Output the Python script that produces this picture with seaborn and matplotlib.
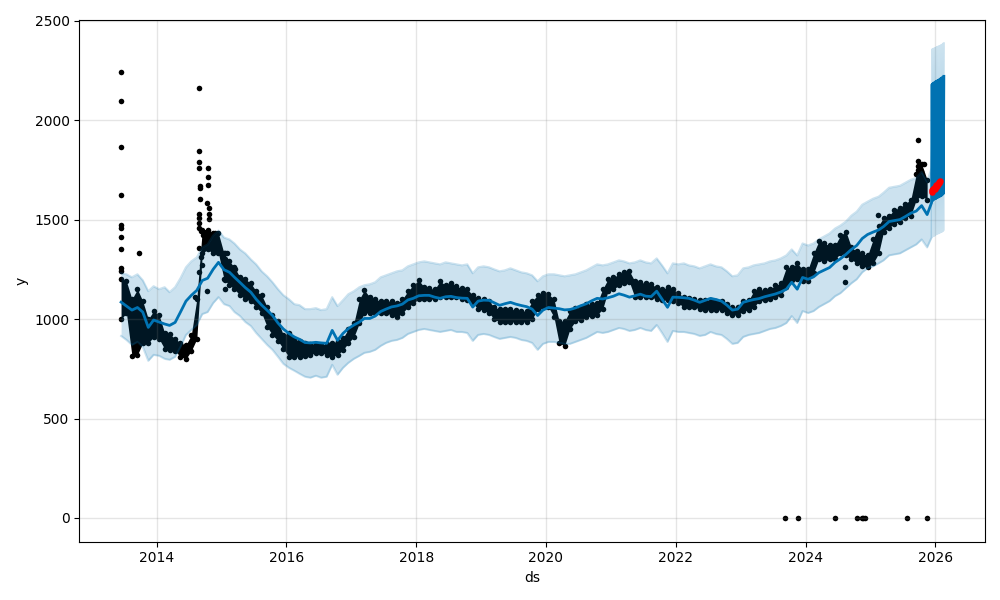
import numpy as np
import pandas as pd
import matplotlib
matplotlib.use('Agg')
import matplotlib.pyplot as plt
import matplotlib.dates as mdates
import seaborn as sns

# monthly history (mid-month, Jun 2013 .. Nov 2025)
months = pd.date_range('2013-06-01', periods=150, freq='MS') + pd.Timedelta(days=14)

yhat = [1085, 1065, 1045, 1058, 1035, 958, 995, 985, 975, 968,
        983, 1035, 1090, 1119, 1144, 1194, 1205, 1250, 1285, 1248,
        1235, 1210, 1184, 1158, 1135, 1100, 1070, 1044, 1018, 980,
        950, 928, 910, 898, 882, 880, 883, 880, 878, 943,
        893, 928, 952, 970, 985, 1003, 1003, 1015, 1038, 1050,
        1061, 1066, 1075, 1096, 1104, 1117, 1119, 1119, 1110, 1104,
        1112, 1114, 1108, 1105, 1104, 1060, 1090, 1095, 1094, 1082,
        1069, 1077, 1084, 1075, 1068, 1062, 1050, 1018, 1045, 1058,
        1055, 1052, 1046, 1048, 1056, 1067, 1077, 1092, 1104, 1101,
        1107, 1115, 1127, 1120, 1110, 1117, 1125, 1115, 1113, 1140,
        1100, 1059, 1110, 1109, 1107, 1104, 1095, 1084, 1094, 1104,
        1098, 1090, 1070, 1045, 1050, 1084, 1092, 1098, 1103, 1112,
        1119, 1126, 1136, 1150, 1185, 1150, 1209, 1200, 1212, 1233,
        1246, 1259, 1285, 1303, 1325, 1350, 1370, 1405, 1425, 1437,
        1448, 1465, 1490, 1495, 1500, 1515, 1532, 1543, 1570, 1525]

yhat_upper = [1230, 1225, 1210, 1225, 1195, 1140, 1165, 1150, 1160, 1135,
              1160, 1205, 1260, 1290, 1310, 1360, 1375, 1420, 1445, 1410,
              1400, 1380, 1350, 1330, 1300, 1275, 1240, 1215, 1185, 1150,
              1120, 1100, 1075, 1070, 1050, 1050, 1055, 1045, 1050, 1110,
              1065, 1095, 1125, 1140, 1160, 1170, 1175, 1185, 1210, 1220,
              1230, 1240, 1245, 1265, 1275, 1285, 1290, 1285, 1280, 1275,
              1285, 1280, 1275, 1270, 1275, 1230, 1260, 1265, 1260, 1250,
              1240, 1245, 1255, 1245, 1235, 1230, 1220, 1190, 1215, 1225,
              1225, 1220, 1215, 1220, 1225, 1235, 1245, 1260, 1275, 1270,
              1275, 1285, 1295, 1290, 1280, 1285, 1295, 1285, 1280, 1305,
              1270, 1230, 1280, 1275, 1280, 1270, 1265, 1255, 1265, 1275,
              1265, 1260, 1240, 1215, 1220, 1255, 1260, 1270, 1275, 1280,
              1290, 1295, 1305, 1320, 1350, 1320, 1380, 1370, 1380, 1400,
              1415, 1430, 1455, 1470, 1490, 1520, 1540, 1575, 1590, 1605,
              1615, 1635, 1660, 1665, 1670, 1685, 1700, 1710, 1740, 1690]

yhat_lower = [915, 895, 870, 885, 860, 790, 820, 815, 800, 795,
              810, 860, 920, 945, 970, 1025, 1035, 1080, 1110, 1075,
              1065, 1035, 1015, 985, 965, 930, 900, 870, 845, 810,
              775, 755, 740, 725, 710, 705, 715, 705, 710, 770,
              720, 755, 780, 800, 815, 830, 835, 845, 865, 880,
              890, 895, 905, 925, 935, 945, 950, 945, 940, 935,
              940, 945, 935, 935, 930, 890, 920, 925, 920, 910,
              900, 905, 910, 905, 895, 890, 880, 845, 875, 885,
              885, 880, 875, 875, 885, 895, 905, 920, 935, 930,
              935, 945, 955, 950, 940, 945, 955, 945, 940, 970,
              930, 885, 940, 935, 935, 930, 925, 915, 920, 935,
              925, 920, 900, 875, 880, 910, 920, 925, 930, 940,
              950, 955, 965, 980, 1015, 980, 1040, 1030, 1040, 1060,
              1075, 1090, 1115, 1130, 1155, 1180, 1200, 1235, 1255, 1265,
              1280, 1295, 1320, 1325, 1330, 1345, 1360, 1375, 1400, 1360]

# spread of the observed points in each month (low / high edge of the black band)
obs_lo = [1000, 1030, 815, 820, 880, 880, 910, 900, 850, 845,
          840, 810, 800, 840, 900, 1330, 1350, 1330, 1330, 1200,
          1170, 1150, 1120, 1100, 1090, 1060, 1030, 960, 920, 890,
          850, 810, 810, 810, 815, 820, 830, 830, 820, 810,
          820, 845, 880, 910, 980, 1030, 1030, 1030, 1030, 1030,
          1020, 1010, 1030, 1060, 1080, 1100, 1100, 1100, 1100, 1110,
          1110, 1110, 1110, 1100, 1095, 1080, 1050, 1045, 1030, 1000,
          985, 985, 985, 985, 985, 985, 1000, 1050, 1060, 1060,
          1010, 880, 865, 950, 990, 995, 1010, 1015, 1020, 1050,
          1140, 1150, 1170, 1180, 1185, 1110, 1110, 1110, 1110, 1100,
          1095, 1095, 1090, 1080, 1060, 1060, 1060, 1050, 1045, 1045,
          1045, 1045, 1030, 1020, 1020, 1040, 1045, 1060, 1090, 1095,
          1100, 1110, 1120, 1160, 1195, 1200, 1190, 1190, 1230, 1300,
          1290, 1300, 1300, 1330, 1320, 1300, 1280, 1265, 1260, 1280,
          1330, 1440, 1460, 1480, 1490, 1510, 1520, 1600, 1620, 1600]

obs_hi = [1200, 1190, 1100, 1150, 1090, 1000, 1040, 1020, 930, 925,
          900, 880, 870, 920, 1100, 1450, 1450, 1430, 1430, 1330,
          1290, 1260, 1210, 1200, 1180, 1140, 1120, 1060, 1020, 990,
          920, 930, 900, 890, 880, 875, 875, 870, 875, 880,
          890, 905, 950, 980, 1100, 1145, 1110, 1100, 1090, 1090,
          1090, 1080, 1100, 1140, 1170, 1195, 1160, 1155, 1150, 1190,
          1170, 1180, 1165, 1155, 1150, 1120, 1105, 1100, 1090, 1060,
          1050, 1050, 1050, 1045, 1040, 1040, 1090, 1120, 1130, 1125,
          1100, 990, 990, 1040, 1055, 1060, 1075, 1075, 1080, 1150,
          1200, 1210, 1225, 1234, 1240, 1190, 1185, 1180, 1175, 1160,
          1150, 1160, 1150, 1130, 1110, 1105, 1100, 1095, 1095, 1095,
          1090, 1090, 1075, 1060, 1060, 1090, 1095, 1140, 1150, 1145,
          1150, 1170, 1180, 1260, 1260, 1280, 1250, 1250, 1330, 1390,
          1380, 1370, 1370, 1420, 1440, 1360, 1340, 1330, 1320, 1400,
          1470, 1510, 1520, 1550, 1560, 1580, 1600, 1730, 1780, 1700]

# isolated observations outside the dense band
extra_dates = ['2013-06-12'] * 10 + ['2013-09-25'] + \
    ['2014-08-28', '2014-08-28', '2014-08-28', '2014-08-27', '2014-10-18', '2014-10-18',
     '2014-10-18', '2014-08-31', '2014-08-31', '2014-09-01', '2014-10-14', '2014-08-26',
     '2014-10-22', '2014-10-22', '2014-10-22', '2014-08-29', '2014-08-29', '2014-08-29',
     '2014-09-10', '2014-09-20', '2014-10-01', '2014-10-10', '2014-10-10', '2014-11-25',
     '2014-11-25', '2014-12-05', '2014-12-05', '2014-08-29', '2014-09-05', '2014-08-25',
     '2014-09-15', '2014-10-14', '2015-01-18', '2015-01-18', '2015-01-18', '2015-01-18',
     '2015-01-18', '2015-01-30', '2015-03-20', '2015-03-20', '2015-04-20', '2015-04-20',
     '2014-08-05'] + \
    ['2024-08-08', '2024-08-08', '2025-02-10', '2025-09-22', '2025-09-22', '2025-09-24',
     '2025-09-26', '2025-10-30', '2025-10-10', '2025-10-14', '2025-10-18', '2025-10-22'] + \
    ['2023-09-05', '2023-11-17', '2024-06-13', '2024-10-16', '2024-11-11', '2024-11-18',
     '2024-11-28', '2025-07-22', '2025-11-17']
extra_vals = [2243, 2098, 1867, 1626, 1475, 1460, 1410, 1350, 1255, 1240, 1330] + \
    [2163, 1847, 1791, 1761, 1761, 1716, 1676, 1671, 1661, 1601, 1581, 1530,
     1556, 1530, 1505, 1510, 1485, 1460, 1445, 1420, 1400, 1380, 1360, 1430,
     1400, 1370, 1340, 1355, 1310, 1234, 1270, 1139, 1330, 1300, 1270, 1194,
     1150, 1330, 1250, 1220, 1200, 1170, 1109] + \
    [1184, 1260, 1525, 1902, 1796, 1771, 1750, 1781, 1746, 1720, 1690, 1661] + \
    [0, 0, 0, 0, 0, 0, 0, 0, 0]

# future part (hourly forecast -> daily swings drawn as a solid block)
fc_dates = pd.date_range('2025-12-10', '2026-02-17', periods=24)
fc_yhat = [1585, 2180, 1595, 2185, 1600, 2188, 1605, 2192, 1605, 2195, 1610, 2198,
           1612, 2200, 1615, 2205, 1618, 2208, 1620, 2212, 1625, 2215, 1630, 2220]
fc_upper = [1760, 2355, 1765, 2358, 1770, 2360, 1772, 2362, 1775, 2365, 1778, 2368,
            1780, 2370, 1782, 2372, 1785, 2375, 1788, 2378, 1790, 2382, 1792, 2386]
fc_lower = [1410, 2010, 1415, 2012, 1418, 2015, 1420, 2018, 1425, 2020, 1428, 2022,
            1430, 2025, 1432, 2028, 1435, 2030, 1438, 2032, 1440, 2035, 1445, 2038]

# actual values after the training cut (red)
test_dates = pd.date_range('2025-12-10', '2026-01-28', periods=12)
test_vals = [1640, 1648, 1652, 1660, 1655, 1665, 1672, 1668, 1678, 1685, 1690, 1695]

fcst = pd.DataFrame({'ds': list(months) + list(fc_dates),
                     'yhat': yhat + fc_yhat,
                     'yhat_upper': yhat_upper + fc_upper,
                     'yhat_lower': yhat_lower + fc_lower})
obs = pd.DataFrame({'ds': list(months) * 2, 'y': obs_lo + obs_hi})
extra = pd.DataFrame({'ds': pd.to_datetime(extra_dates), 'y': extra_vals})
test = pd.DataFrame({'ds': test_dates, 'y': test_vals})

fig = plt.figure(facecolor='w', figsize=(10, 6))
ax = fig.add_subplot(111)

# observed points
ax.fill_between(months, obs_lo, obs_hi, color='k', lw=0)
sns.scatterplot(data=obs, x='ds', y='y', color='k', s=16, linewidth=0, ax=ax)
sns.scatterplot(data=extra, x='ds', y='y', color='k', s=16, linewidth=0, ax=ax)

# forecast line and interval
sns.lineplot(data=fcst, x='ds', y='yhat', color='#0072B2', lw=2,
             estimator=None, sort=False, ax=ax)
ax.fill_between(fcst['ds'], fcst['yhat_lower'], fcst['yhat_upper'],
                color='#0072B2', alpha=0.2, lw=0)
ax.plot(fcst['ds'], fcst['yhat_upper'], color='#0072B2', alpha=0.2, lw=1.5)
ax.plot(fcst['ds'], fcst['yhat_lower'], color='#0072B2', alpha=0.2, lw=1.5)

sns.scatterplot(data=test, x='ds', y='y', color='r', s=22, linewidth=0, ax=ax, zorder=3)

ax.xaxis.set_major_locator(mdates.YearLocator(2))
ax.xaxis.set_major_formatter(mdates.DateFormatter('%Y'))
ax.grid(True, which='major', c='gray', ls='-', lw=1, alpha=0.2)
ax.set_xlabel('ds')
ax.set_ylabel('y')
fig.tight_layout()
fig.savefig('out.png', dpi=100)
